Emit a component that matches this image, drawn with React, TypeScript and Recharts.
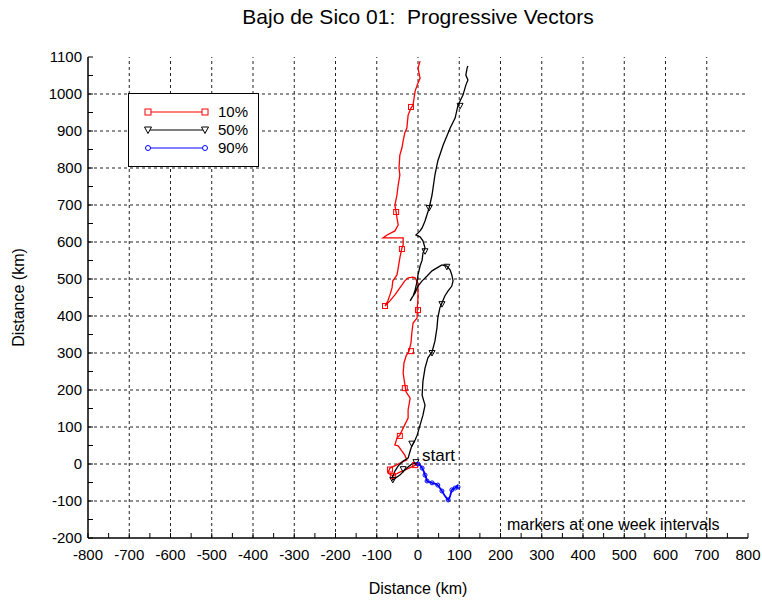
import { ComposedChart, Line, Scatter, XAxis, YAxis, ReferenceLine, ReferenceDot } from "recharts";

// tick values (every 50, labels on the hundreds)
const xTicks = [-800, -750, -700, -650, -600, -550, -500, -450, -400, -350, -300, -250, -200, -150, -100, -50, 0, 50, 100, 150, 200, 250, 300, 350, 400, 450, 500, 550, 600, 650, 700, 750, 800];
const yTicks = [-200, -150, -100, -50, 0, 50, 100, 150, 200, 250, 300, 350, 400, 450, 500, 550, 600, 650, 700, 750, 800, 850, 900, 950, 1000, 1050, 1100];
const xGrid = [-700, -600, -500, -400, -300, -200, -100, 0, 100, 200, 300, 400, 500, 600, 700];
const yGrid = [-100, 0, 100, 200, 300, 400, 500, 600, 700, 800, 900, 1000];

// progressive vector tracks (km east, km north)
const red10Path = [
  [0, 0], [-10, -5], [-27, -14], [-44, -22], [-61, -32], [-73, -24], [-68, -11], [-53, -3], [-39, 5], [-27, 11],
  [-32, 24], [-39, 35], [-48, 49], [-56, 51], [-51, 70], [-44, 78], [-36, 97], [-24, 124], [-24, 146], [-19, 178],
  [-29, 195], [-32, 216], [-36, 246], [-34, 273], [-29, 292], [-22, 305], [-17, 327], [-15, 354], [-12, 381], [-2, 395],
  [-2, 416], [0, 449], [0, 468], [0, 489], [-7, 503], [-12, 505], [-24, 503], [-32, 495], [-44, 476], [-56, 457],
  [-68, 441], [-80, 427], [-73, 441], [-68, 457], [-63, 476], [-61, 495], [-51, 511], [-48, 530], [-44, 557], [-39, 584],
  [-36, 592], [-36, 611], [-56, 611], [-85, 611], [-75, 619], [-56, 630], [-48, 646], [-51, 665], [-53, 681], [-56, 700],
  [-51, 727], [-48, 754], [-44, 781], [-46, 800], [-44, 835], [-39, 854], [-36, 873], [-32, 895], [-27, 908], [-24, 943],
  [-17, 962], [-12, 970], [-7, 1008], [-2, 1024], [5, 1043], [0, 1070], [5, 1089],
];
const black50Path = [
  [0, 0], [-12, 3], [-27, -11], [-44, -30], [-61, -43], [-63, -38], [-56, -19], [-48, -5], [-36, 8], [-24, 16],
  [-19, 35], [-15, 49], [-7, 65], [-2, 78], [5, 105], [12, 132], [17, 159], [10, 186], [12, 224], [17, 259],
  [24, 287], [34, 303], [41, 332], [46, 368], [48, 395], [53, 422], [58, 435], [65, 454], [73, 468], [82, 481],
  [85, 495], [82, 511], [78, 524], [70, 535], [58, 538], [46, 530], [34, 522], [22, 508], [10, 495], [0, 481],
  [-7, 462], [-15, 449], [-19, 441], [-12, 454], [-7, 470], [-2, 495], [0, 511], [5, 535], [10, 551], [12, 570],
  [17, 584], [12, 603], [5, 614], [-5, 619], [5, 630], [10, 638], [17, 657], [27, 692], [34, 727], [41, 781],
  [48, 819], [61, 862], [78, 908], [90, 935], [97, 970], [109, 997], [116, 1024], [121, 1038], [116, 1051], [119, 1070],
  [121, 1076],
];
const blue90Path = [
  [0, 0], [5, -3], [10, -11], [14, -20], [17, -30], [20, -38], [22, -46], [28, -49], [34, -51], [41, -53],
  [48, -57], [53, -65], [58, -73], [62, -80], [65, -86], [70, -93], [73, -97], [76, -92], [78, -86], [80, -78],
  [82, -70], [86, -66], [90, -65], [95, -59], [97, -65],
];

// weekly markers
const red10Marks = [[-7, -3], [-61, -32], [-68, -15], [-44, 76], [-32, 205], [-17, 305], [0, 416], [-80, 427], [-39, 581], [-53, 681], [-17, 965]];
const black50Marks = [[-5, 5], [-36, -14], [-61, -43], [-15, 55], [34, 300], [58, 432], [70, 533], [17, 575], [27, 692], [102, 968]];
const blue90Marks = [[0, 0], [10, -11], [17, -30], [22, -46], [34, -51], [48, -57], [58, -73], [73, -97], [82, -70], [90, -65], [97, -62]];

const pts = (a: number[][]) => a.map(([x, y]) => ({ x, y }));

const FONT = '"Liberation Sans", Arial, Helvetica, sans-serif';
const RED = "#ff0000";
const BLUE = "#0000ff";

const isMajor = (v: number) => v % 100 === 0;

const BottomTick = (p: any) => {
  const v = p.payload.value;
  return (
    <g>
      <line x1={p.x} y1={p.y} x2={p.x} y2={p.y - 5} stroke="#000" />
      {isMajor(v) && (
        <text x={p.x} y={p.y + 22} textAnchor="middle" fontSize={15} fill="#000" fontFamily={FONT}>
          {v}
        </text>
      )}
    </g>
  );
};
const TopTick = (p: any) => <line x1={p.x} y1={p.y} x2={p.x} y2={p.y + 5} stroke="#000" />;
const LeftTick = (p: any) => {
  const v = p.payload.value;
  return (
    <g>
      <line x1={p.x} y1={p.y} x2={p.x + 5} y2={p.y} stroke="#000" />
      {isMajor(v) && (
        <text x={p.x - 6} y={p.y + 5} textAnchor="end" fontSize={15} fill="#000" fontFamily={FONT}>
          {v}
        </text>
      )}
    </g>
  );
};
const RightTick = (p: any) => <line x1={p.x} y1={p.y} x2={p.x - 5} y2={p.y} stroke="#000" />;

const Square = (p: any) => <rect x={p.cx - 2.5} y={p.cy - 2.5} width={5} height={5} fill="none" stroke={RED} />;
const Tri = (p: any) => (
  <polygon points={`${p.cx - 3},${p.cy - 2.5} ${p.cx + 3},${p.cy - 2.5} ${p.cx},${p.cy + 3}`} fill="none" stroke="#000" />
);
const Circ = (p: any) => <circle cx={p.cx} cy={p.cy} r={2} fill="none" stroke={BLUE} />;

const axisLine = { stroke: "#000", strokeWidth: 1.5 };

const legendRows = [
  { name: "10%", color: RED, mark: "square" },
  { name: "50%", color: "#000", mark: "tri" },
  { name: "90%", color: BLUE, mark: "circle" },
];

function LegendMark({ kind, x, y, color }: { kind: string; x: number; y: number; color: string }) {
  if (kind === "square") return <rect x={x - 3} y={y - 3} width={6} height={6} fill="#fff" stroke={color} />;
  if (kind === "tri")
    return <polygon points={`${x - 3.5},${y - 3} ${x + 3.5},${y - 3} ${x},${y + 3.5}`} fill="#fff" stroke={color} />;
  return <circle cx={x} cy={y} r={2.5} fill="#fff" stroke={color} />;
}

export default function App() {
  return (
    <div style={{ position: "absolute", left: 0, top: 0, width: 762, height: 600, background: "#fff", fontFamily: FONT }}>
      <div style={{ position: "absolute", left: 118, top: 5, width: 600, textAlign: "center", fontSize: 21, lineHeight: "24px", color: "#000", whiteSpace: "pre" }}>
        {"Bajo de Sico 01:  Progressive Vectors"}
      </div>
      <ComposedChart width={762} height={600} margin={{ top: 57, right: 14, bottom: 0, left: 0 }}>
        <XAxis
          dataKey="x"
          type="number"
          domain={[-800, 800]}
          ticks={xTicks}
          interval={0}
          allowDataOverflow
          height={62}
          tickSize={0}
          tickMargin={0}
          tickLine={false}
          axisLine={axisLine}
          tick={<BottomTick />}
          label={{ value: "Distance (km)", position: "insideBottom", offset: 6, fontSize: 16, fill: "#000", fontFamily: FONT }}
        />
        <XAxis
          xAxisId="top"
          orientation="top"
          type="number"
          domain={[-800, 800]}
          ticks={xTicks}
          interval={0}
          allowDataOverflow
          height={0}
          tickSize={0}
          tickMargin={0}
          tickLine={false}
          axisLine={axisLine}
          tick={<TopTick />}
        />
        <YAxis
          dataKey="y"
          type="number"
          domain={[-200, 1100]}
          ticks={yTicks}
          interval={0}
          allowDataOverflow
          width={88}
          tickSize={0}
          tickMargin={0}
          tickLine={false}
          axisLine={axisLine}
          tick={<LeftTick />}
          label={{ value: "Distance (km)", angle: -90, position: "insideLeft", offset: 18, fontSize: 16, fill: "#000", fontFamily: FONT, style: { textAnchor: "middle" } }}
        />
        <YAxis
          yAxisId="right"
          orientation="right"
          type="number"
          domain={[-200, 1100]}
          ticks={yTicks}
          interval={0}
          allowDataOverflow
          width={0}
          tickSize={0}
          tickMargin={0}
          tickLine={false}
          axisLine={axisLine}
          tick={<RightTick />}
        />
        {xGrid.map((v) => (
          <ReferenceLine key={`gx${v}`} x={v} stroke="#222" strokeDasharray="3 3" strokeWidth={1} />
        ))}
        {yGrid.map((v) => (
          <ReferenceLine key={`gy${v}`} y={v} stroke="#222" strokeDasharray="3 3" strokeWidth={1} />
        ))}
        <Line data={pts(red10Path)} dataKey="y" type="linear" stroke={RED} strokeWidth={1.3} dot={false} activeDot={false} isAnimationActive={false} />
        <Line data={pts(black50Path)} dataKey="y" type="linear" stroke="#000" strokeWidth={1.3} dot={false} activeDot={false} isAnimationActive={false} />
        <Line data={pts(blue90Path)} dataKey="y" type="linear" stroke={BLUE} strokeWidth={1.8} dot={false} activeDot={false} isAnimationActive={false} />
        <Scatter data={pts(red10Marks)} shape={<Square />} isAnimationActive={false} />
        <Scatter data={pts(black50Marks)} shape={<Tri />} isAnimationActive={false} />
        <Scatter data={pts(blue90Marks)} shape={<Circ />} isAnimationActive={false} />
        <ReferenceDot
          x={0}
          y={0}
          r={0}
          fill="none"
          stroke="none"
          label={{
            content: (lp: any) => (
              <text x={lp.viewBox.x + 4} y={lp.viewBox.y - 3} fontSize={17} fill="#000" fontFamily={FONT}>
                start
              </text>
            ),
          }}
        />
      </ComposedChart>
      <div style={{ position: "absolute", left: 507, top: 515, fontSize: 16, lineHeight: "20px", color: "#000", whiteSpace: "nowrap" }}>
        markers at one week intervals
      </div>
      <div
        style={{
          position: "absolute",
          left: 128,
          top: 93,
          width: 131,
          height: 74,
          boxSizing: "border-box",
          border: "1px solid #000",
          background: "#fff",
        }}
      >
        <svg width={129} height={72} style={{ position: "absolute", left: 0, top: 0 }}>
          {legendRows.map((r, i) => {
            const y = 18 + i * 18;
            return (
              <g key={r.name}>
                <line x1={19} y1={y} x2={76} y2={y} stroke={r.color} strokeWidth={1.2} />
                <LegendMark kind={r.mark} x={19} y={y} color={r.color} />
                <LegendMark kind={r.mark} x={76} y={y} color={r.color} />
                <text x={89} y={y + 5} fontSize={15} fill="#000" fontFamily={FONT}>
                  {r.name}
                </text>
              </g>
            );
          })}
        </svg>
      </div>
    </div>
  );
}
